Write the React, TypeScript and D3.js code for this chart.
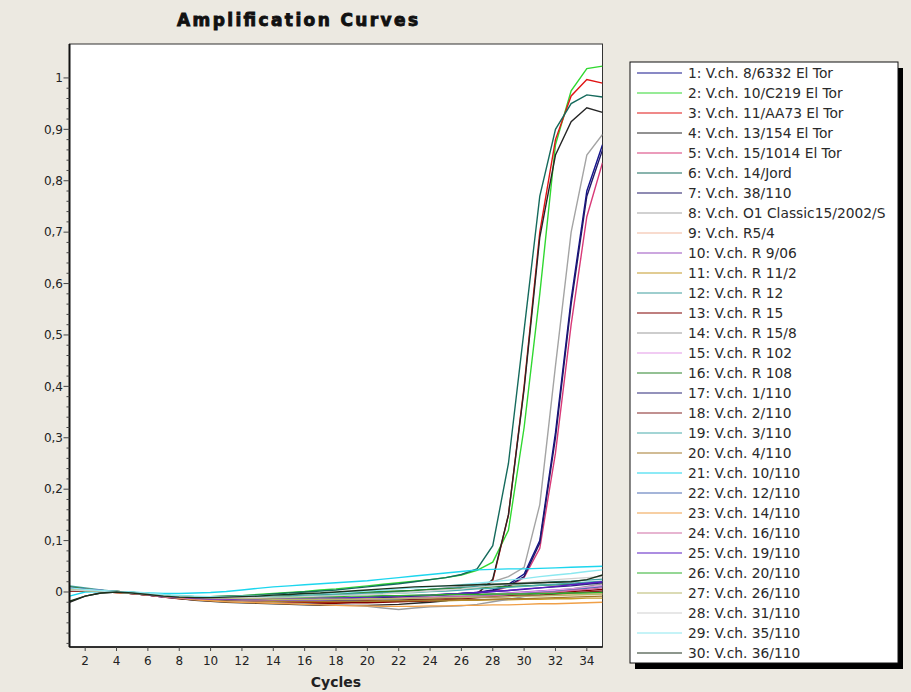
import React from "react";
import * as d3 from "d3";

const cycles = [1, 2, 3, 4, 5, 6, 7, 8, 9, 10, 11, 12, 13, 14, 15, 16, 17, 18, 19, 20, 21, 22, 23, 24, 25, 26, 27, 28, 29, 30, 31, 32, 33, 34, 35];

const labels = [
  "1: V.ch. 8/6332 El Tor", "2: V.ch. 10/C219 El Tor", "3: V.ch. 11/AA73 El Tor", "4: V.ch. 13/154 El Tor",
  "5: V.ch. 15/1014 El Tor", "6: V.ch. 14/Jord", "7: V.ch. 38/110", "8: V.ch. O1 Classic15/2002/S",
  "9: V.ch. R5/4", "10: V.ch. R 9/06", "11: V.ch. R 11/2", "12: V.ch. R 12", "13: V.ch. R 15",
  "14: V.ch. R 15/8", "15: V.ch. R 102", "16: V.ch. R 108", "17: V.ch. 1/110", "18: V.ch. 2/110",
  "19: V.ch. 3/110", "20: V.ch. 4/110", "21: V.ch. 10/110", "22: V.ch. 12/110", "23: V.ch. 14/110",
  "24: V.ch. 16/110", "25: V.ch. 19/110", "26: V.ch. 20/110", "27: V.ch. 26/110", "28: V.ch. 31/110",
  "29: V.ch. 35/110", "30: V.ch. 36/110",
];

const colors = [
  "#14148c", "#30d830", "#e01414", "#262626", "#d83a78", "#156a5c", "#201868", "#a4a4a4",
  "#f2b89e", "#9a50c0", "#c49a28", "#3e9e9e", "#800000", "#9c9c9c", "#e498e8", "#2a842a",
  "#2a2678", "#842424", "#48acac", "#a47a2c", "#1cd6ee", "#4c6cb4", "#f0a048", "#d06ca4",
  "#5a1cc4", "#2cb02c", "#b8b86c", "#d0d0d0", "#8ce8f0", "#1c301c",
];

const s01 = [0.007, 0.005, 0.003, 0.001, -0.001, -0.004, -0.007, -0.009, -0.011, -0.012, -0.012, -0.013, -0.013, -0.013, -0.013, -0.012, -0.012, -0.011, -0.011, -0.010, -0.009, -0.008, -0.007, -0.006, -0.005, -0.003, -0.001, 0.004, 0.015, 0.035, 0.100, 0.310, 0.570, 0.780, 0.870];
const s02 = [0.008, 0.006, 0.003, 0.001, -0.001, -0.003, -0.006, -0.008, -0.009, -0.009, -0.008, -0.007, -0.005, -0.003, -0.001, 0.001, 0.004, 0.006, 0.009, 0.012, 0.015, 0.018, 0.021, 0.024, 0.028, 0.033, 0.042, 0.058, 0.120, 0.320, 0.580, 0.870, 0.975, 1.018, 1.023];
const s03 = [0.005, 0.004, 0.002, 0.000, -0.003, -0.006, -0.010, -0.013, -0.015, -0.017, -0.018, -0.019, -0.020, -0.021, -0.021, -0.021, -0.021, -0.020, -0.020, -0.019, -0.018, -0.017, -0.015, -0.013, -0.011, -0.008, -0.003, 0.022, 0.150, 0.400, 0.700, 0.880, 0.965, 0.997, 0.990];
const s04 = [-0.020, -0.008, -0.002, 0.000, -0.003, -0.006, -0.010, -0.013, -0.016, -0.018, -0.020, -0.021, -0.022, -0.023, -0.024, -0.025, -0.026, -0.026, -0.026, -0.026, -0.025, -0.024, -0.022, -0.020, -0.017, -0.012, -0.004, 0.025, 0.150, 0.395, 0.690, 0.850, 0.915, 0.942, 0.933];
const s05 = [0.004, 0.003, 0.001, -0.001, -0.003, -0.006, -0.009, -0.011, -0.012, -0.013, -0.014, -0.014, -0.015, -0.015, -0.015, -0.015, -0.014, -0.014, -0.013, -0.012, -0.011, -0.010, -0.009, -0.008, -0.006, -0.004, -0.002, 0.002, 0.010, 0.028, 0.085, 0.270, 0.520, 0.730, 0.835];
const s06 = [0.006, 0.005, 0.003, 0.001, -0.001, -0.003, -0.006, -0.008, -0.009, -0.009, -0.008, -0.007, -0.006, -0.004, -0.002, 0.000, 0.002, 0.004, 0.007, 0.010, 0.013, 0.016, 0.020, 0.024, 0.028, 0.034, 0.045, 0.090, 0.250, 0.510, 0.770, 0.900, 0.950, 0.967, 0.963];
const s07 = [0.010, 0.006, 0.003, 0.000, -0.002, -0.005, -0.008, -0.010, -0.012, -0.013, -0.014, -0.015, -0.016, -0.016, -0.016, -0.016, -0.016, -0.015, -0.015, -0.014, -0.013, -0.012, -0.011, -0.009, -0.007, -0.005, -0.002, 0.003, 0.012, 0.030, 0.095, 0.300, 0.560, 0.770, 0.860];
const s08 = [0.003, 0.002, 0.001, -0.001, -0.003, -0.005, -0.008, -0.010, -0.011, -0.012, -0.012, -0.012, -0.012, -0.011, -0.010, -0.009, -0.008, -0.006, -0.005, -0.003, -0.001, 0.001, 0.003, 0.005, 0.008, 0.011, 0.014, 0.020, 0.030, 0.048, 0.170, 0.440, 0.700, 0.850, 0.890];
const s09 = [0.009, 0.006, 0.003, 0.001, -0.001, -0.004, -0.007, -0.009, -0.010, -0.011, -0.011, -0.012, -0.012, -0.012, -0.012, -0.012, -0.012, -0.012, -0.011, -0.011, -0.011, -0.010, -0.010, -0.010, -0.009, -0.009, -0.008, -0.008, -0.007, -0.007, -0.006, -0.006, -0.005, -0.005, -0.004];
const s10 = [0.006, 0.005, 0.003, 0.000, -0.003, -0.006, -0.010, -0.012, -0.014, -0.015, -0.015, -0.016, -0.016, -0.016, -0.016, -0.016, -0.015, -0.015, -0.015, -0.014, -0.013, -0.012, -0.011, -0.010, -0.008, -0.007, -0.005, -0.004, -0.002, 0.000, 0.002, 0.004, 0.006, 0.009, 0.012];
const s11 = [0.004, 0.003, 0.002, 0.000, -0.002, -0.005, -0.008, -0.011, -0.013, -0.014, -0.015, -0.016, -0.017, -0.018, -0.018, -0.019, -0.019, -0.019, -0.019, -0.019, -0.018, -0.018, -0.018, -0.017, -0.017, -0.016, -0.016, -0.015, -0.015, -0.014, -0.014, -0.013, -0.013, -0.012, -0.012];
const s12 = [0.012, 0.008, 0.004, 0.001, -0.001, -0.004, -0.007, -0.009, -0.010, -0.010, -0.010, -0.010, -0.009, -0.008, -0.007, -0.006, -0.005, -0.004, -0.003, -0.002, -0.001, 0.001, 0.003, 0.005, 0.007, 0.009, 0.011, 0.013, 0.015, 0.016, 0.018, 0.020, 0.021, 0.023, 0.025];
const s13 = [0.002, 0.002, 0.001, -0.001, -0.003, -0.006, -0.009, -0.012, -0.014, -0.016, -0.018, -0.019, -0.020, -0.021, -0.022, -0.022, -0.022, -0.022, -0.021, -0.021, -0.020, -0.019, -0.018, -0.017, -0.015, -0.013, -0.011, -0.009, -0.007, -0.005, -0.003, -0.001, 0.001, 0.003, 0.005];
const s14 = [0.005, 0.004, 0.002, 0.000, -0.002, -0.005, -0.009, -0.012, -0.014, -0.016, -0.018, -0.019, -0.020, -0.021, -0.022, -0.023, -0.024, -0.025, -0.026, -0.028, -0.031, -0.034, -0.031, -0.029, -0.028, -0.027, -0.024, -0.019, -0.014, -0.009, -0.004, 0.001, 0.006, 0.011, 0.016];
const s15 = [0.008, 0.006, 0.003, 0.001, -0.002, -0.005, -0.008, -0.010, -0.012, -0.013, -0.013, -0.014, -0.014, -0.014, -0.014, -0.014, -0.013, -0.013, -0.013, -0.012, -0.012, -0.011, -0.010, -0.009, -0.008, -0.007, -0.006, -0.004, -0.003, -0.001, 0.001, 0.004, 0.006, 0.009, 0.012];
const s16 = [0.010, 0.006, 0.003, 0.001, -0.001, -0.003, -0.006, -0.008, -0.009, -0.009, -0.009, -0.008, -0.007, -0.006, -0.005, -0.004, -0.003, -0.002, -0.001, 0.000, 0.001, 0.002, 0.003, 0.005, 0.006, 0.007, 0.008, 0.010, 0.011, 0.012, 0.013, 0.014, 0.015, 0.017, 0.020];
const s17 = [0.006, 0.004, 0.002, 0.000, -0.003, -0.006, -0.009, -0.012, -0.013, -0.014, -0.015, -0.015, -0.016, -0.016, -0.016, -0.015, -0.015, -0.014, -0.013, -0.012, -0.011, -0.010, -0.008, -0.007, -0.005, -0.003, -0.001, 0.001, 0.003, 0.005, 0.008, 0.010, 0.012, 0.015, 0.018];
const s18 = [0.003, 0.003, 0.002, 0.000, -0.002, -0.005, -0.008, -0.010, -0.012, -0.013, -0.014, -0.015, -0.016, -0.016, -0.017, -0.017, -0.017, -0.017, -0.017, -0.016, -0.016, -0.015, -0.015, -0.014, -0.013, -0.012, -0.011, -0.010, -0.009, -0.007, -0.006, -0.004, -0.002, 0.000, 0.002];
const s19 = [0.007, 0.005, 0.003, 0.001, -0.001, -0.003, -0.006, -0.008, -0.009, -0.010, -0.010, -0.010, -0.010, -0.009, -0.009, -0.008, -0.007, -0.006, -0.005, -0.004, -0.003, -0.002, -0.001, 0.001, 0.002, 0.004, 0.006, 0.007, 0.009, 0.011, 0.013, 0.015, 0.017, 0.019, 0.021];
const s20 = [0.005, 0.004, 0.002, 0.000, -0.002, -0.005, -0.008, -0.011, -0.013, -0.014, -0.015, -0.016, -0.016, -0.017, -0.017, -0.017, -0.018, -0.018, -0.018, -0.018, -0.017, -0.017, -0.017, -0.016, -0.016, -0.015, -0.015, -0.014, -0.013, -0.013, -0.012, -0.011, -0.010, -0.009, -0.008];
const s21 = [-0.008, 0.000, 0.001, 0.000, -0.001, -0.002, -0.003, -0.003, -0.002, -0.001, 0.001, 0.004, 0.007, 0.010, 0.012, 0.014, 0.016, 0.018, 0.020, 0.022, 0.025, 0.028, 0.031, 0.034, 0.037, 0.040, 0.043, 0.044, 0.045, 0.045, 0.046, 0.047, 0.048, 0.049, 0.050];
const s22 = [0.006, 0.004, 0.002, 0.000, -0.002, -0.005, -0.008, -0.011, -0.012, -0.013, -0.014, -0.015, -0.015, -0.015, -0.016, -0.016, -0.016, -0.015, -0.015, -0.014, -0.014, -0.013, -0.012, -0.011, -0.010, -0.009, -0.008, -0.006, -0.005, -0.003, -0.001, 0.001, 0.004, 0.007, 0.010];
const s23 = [0.004, 0.003, 0.001, -0.001, -0.003, -0.006, -0.009, -0.012, -0.015, -0.017, -0.019, -0.020, -0.021, -0.022, -0.023, -0.024, -0.025, -0.026, -0.027, -0.027, -0.028, -0.028, -0.028, -0.027, -0.027, -0.026, -0.026, -0.025, -0.025, -0.024, -0.023, -0.023, -0.022, -0.021, -0.020];
const s24 = [0.005, 0.004, 0.002, 0.000, -0.002, -0.005, -0.009, -0.011, -0.013, -0.014, -0.014, -0.015, -0.015, -0.015, -0.015, -0.015, -0.015, -0.014, -0.014, -0.014, -0.013, -0.012, -0.012, -0.011, -0.010, -0.009, -0.008, -0.007, -0.005, -0.004, -0.002, 0.000, 0.003, 0.005, 0.008];
const s25 = [0.008, 0.005, 0.003, 0.000, -0.002, -0.005, -0.008, -0.010, -0.012, -0.013, -0.013, -0.014, -0.014, -0.014, -0.013, -0.013, -0.012, -0.012, -0.011, -0.010, -0.009, -0.008, -0.007, -0.006, -0.004, -0.003, -0.001, 0.001, 0.003, 0.006, 0.008, 0.011, 0.014, 0.017, 0.020];
const s26 = [0.004, 0.003, 0.002, 0.000, -0.002, -0.004, -0.007, -0.009, -0.010, -0.011, -0.011, -0.011, -0.011, -0.011, -0.010, -0.010, -0.009, -0.009, -0.008, -0.008, -0.007, -0.007, -0.006, -0.006, -0.005, -0.005, -0.005, -0.004, -0.004, -0.004, -0.003, -0.003, -0.002, -0.002, -0.001];
const s27 = [0.006, 0.004, 0.002, 0.000, -0.002, -0.004, -0.007, -0.009, -0.011, -0.012, -0.012, -0.013, -0.013, -0.014, -0.014, -0.014, -0.014, -0.014, -0.014, -0.013, -0.013, -0.013, -0.012, -0.012, -0.011, -0.011, -0.010, -0.010, -0.009, -0.008, -0.008, -0.007, -0.006, -0.005, -0.004];
const s28 = [0.004, 0.003, 0.002, 0.000, -0.002, -0.004, -0.007, -0.009, -0.010, -0.011, -0.011, -0.011, -0.011, -0.010, -0.010, -0.009, -0.008, -0.007, -0.006, -0.005, -0.004, -0.002, 0.000, 0.002, 0.004, 0.006, 0.009, 0.012, 0.015, 0.018, 0.021, 0.024, 0.026, 0.028, 0.030];
const s29 = [0.008, 0.005, 0.003, 0.001, 0.000, -0.002, -0.005, -0.007, -0.008, -0.009, -0.009, -0.008, -0.007, -0.006, -0.005, -0.004, -0.003, -0.002, 0.000, 0.002, 0.004, 0.006, 0.008, 0.010, 0.012, 0.014, 0.017, 0.020, 0.023, 0.026, 0.030, 0.033, 0.036, 0.040, 0.043];
const s30 = [-0.018, -0.008, -0.002, 0.000, -0.002, -0.005, -0.008, -0.010, -0.011, -0.011, -0.010, -0.009, -0.008, -0.006, -0.005, -0.003, -0.002, 0.000, 0.002, 0.004, 0.006, 0.008, 0.010, 0.011, 0.012, 0.013, 0.014, 0.015, 0.016, 0.017, 0.018, 0.019, 0.020, 0.024, 0.033];

const seriesValues = [s01, s02, s03, s04, s05, s06, s07, s08, s09, s10, s11, s12, s13, s14, s15, s16, s17, s18, s19, s20, s21, s22, s23, s24, s25, s26, s27, s28, s29, s30];

const xTicks = [2, 4, 6, 8, 10, 12, 14, 16, 18, 20, 22, 24, 26, 28, 30, 32, 34];
const yTicks = [0, 0.1, 0.2, 0.3, 0.4, 0.5, 0.6, 0.7, 0.8, 0.9, 1];
const yTickLabels = ["0", "0,1", "0,2", "0,3", "0,4", "0,5", "0,6", "0,7", "0,8", "0,9", "1"];
const yMinorTicks = [-0.1, -0.08, -0.06, -0.04, -0.02, 0.02, 0.04, 0.06, 0.08, 0.12, 0.14, 0.16, 0.18, 0.22, 0.24, 0.26, 0.28, 0.32, 0.34, 0.36, 0.38, 0.42, 0.44, 0.46, 0.48, 0.52, 0.54, 0.56, 0.58, 0.62, 0.64, 0.66, 0.68, 0.72, 0.74, 0.76, 0.78, 0.82, 0.84, 0.86, 0.88, 0.92, 0.94, 0.96, 0.98];

const W = 911;
const H = 692;
const plot = { left: 69.5, right: 602.5, top: 44, bottom: 647 };
const legend = { x: 630, y: 62, w: 268, h: 601, row: 20, first: 73 };
const FONT = "'DejaVu Sans', Verdana, sans-serif";

export default function App() {
  const x = d3.scaleLinear().domain([1, 35]).range([plot.left, plot.right]);
  const y = d3.scaleLinear().domain([-0.107, 1.066]).range([plot.bottom, plot.top]);
  const line = d3
    .line<number>()
    .x((_, i) => x(cycles[i]))
    .y((d) => y(d));

  return (
    <svg
      width={W}
      height={H}
      style={{ position: "absolute", left: 0, top: 0, display: "block" }}
      fontFamily={FONT}
    >
      <rect x={0} y={0} width={W} height={H} fill="#ece9e1" />
      <text
        x={177}
        y={26}
        fontSize={17}
        fontWeight="bold"
        fill="#111"
        stroke="#111"
        strokeWidth={0.9}
        textLength={241}
        lengthAdjust="spacing"
      >
        Amplification Curves
      </text>

      <defs>
        <clipPath id="plotclip">
          <rect x={plot.left} y={plot.top} width={plot.right - plot.left} height={plot.bottom - plot.top} />
        </clipPath>
      </defs>

      <rect
        x={plot.left}
        y={plot.top}
        width={plot.right - plot.left}
        height={plot.bottom - plot.top}
        fill="#ffffff"
        stroke="#333"
        strokeWidth={1}
      />

      <g clipPath="url(#plotclip)">
        {seriesValues.map((vals, i) => (
          <path key={i} d={line(vals) || ""} fill="none" stroke={colors[i]} strokeWidth={1.4} />
        ))}
      </g>

      <line x1={plot.left} x2={plot.left} y1={plot.top} y2={plot.bottom} stroke="#111" strokeWidth={2} />
      <line x1={plot.left} x2={plot.right} y1={plot.bottom} y2={plot.bottom} stroke="#111" strokeWidth={1.5} />

      {yMinorTicks.map((t) => (
        <line key={"m" + t} x1={plot.left - 3} x2={plot.left} y1={y(t)} y2={y(t)} stroke="#444" strokeWidth={1} />
      ))}
      {yTicks.map((t, i) => (
        <g key={"y" + t}>
          <line x1={plot.left - 6} x2={plot.left} y1={y(t)} y2={y(t)} stroke="#444" strokeWidth={1} />
          <text x={plot.left - 6.5} y={y(t)} dy="0.35em" textAnchor="end" fontSize={12} fill="#222">
            {yTickLabels[i]}
          </text>
        </g>
      ))}

      {xTicks.map((t) => (
        <g key={"x" + t}>
          <line x1={x(t)} x2={x(t)} y1={plot.bottom} y2={plot.bottom + 4} stroke="#444" strokeWidth={1} />
          <text x={x(t)} y={plot.bottom + 18} textAnchor="middle" fontSize={12} fill="#222">
            {t}
          </text>
        </g>
      ))}
      <text x={(plot.left + plot.right) / 2} y={687} textAnchor="middle" fontSize={14} fontWeight="bold" fill="#222">
        Cycles
      </text>

      <rect x={legend.x + 5} y={legend.y + 6} width={legend.w} height={legend.h} fill="#000" />
      <rect x={legend.x} y={legend.y} width={legend.w} height={legend.h} fill="#fff" stroke="#111" strokeWidth={1} />
      {labels.map((lab, i) => {
        const cy = legend.first + i * legend.row;
        return (
          <g key={"l" + i}>
            <line x1={637} x2={682} y1={cy} y2={cy} stroke={colors[i]} strokeWidth={1.2} />
            <text x={688} y={cy} dy="0.36em" fontSize={13.8} fill="#2a2a2a">
              {lab}
            </text>
          </g>
        );
      })}
    </svg>
  );
}
